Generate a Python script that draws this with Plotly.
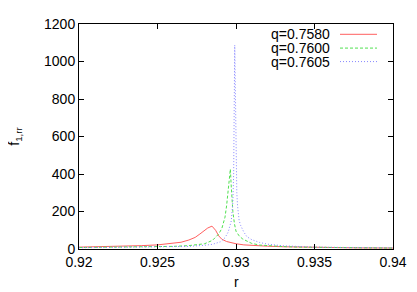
import plotly.graph_objects as go

# ---- data ----
names = ["q=0.7580", "q=0.7600", "q=0.7605"]

r_758 = [0.920, 0.921, 0.922, 0.923, 0.924, 0.925, 0.926, 0.9265, 0.927, 0.9274,
         0.9277, 0.928, 0.9282, 0.92847, 0.9287, 0.9289, 0.9291, 0.9294, 0.9297,
         0.930, 0.9305, 0.931, 0.932, 0.933, 0.934, 0.935, 0.936, 0.937, 0.938,
         0.939, 0.940]
f_758 = [10, 11, 13, 15, 18, 22, 30, 36, 48, 62,
         80, 100, 112, 122, 100, 70, 52, 40, 33,
         28, 22, 19, 15, 12, 10, 9, 8, 7, 6,
         6, 5]

r_760 = [0.920, 0.922, 0.924, 0.925, 0.926, 0.927, 0.9275, 0.928, 0.9285, 0.9289,
         0.9291, 0.9293, 0.9294, 0.9295, 0.92958, 0.92964, 0.9297, 0.9298, 0.9299,
         0.930, 0.9302, 0.9304, 0.9307, 0.931, 0.9315, 0.932, 0.933, 0.934, 0.935,
         0.937, 0.940]
f_760 = [8, 9, 11, 12, 14, 18, 22, 28, 46, 80,
         110, 170, 230, 300, 380, 426, 330, 200, 135,
         95, 70, 55, 42, 30, 21, 18, 13, 10, 9,
         7, 5]

r_7605 = [0.920, 0.922, 0.924, 0.925, 0.926, 0.927, 0.928, 0.9285, 0.929, 0.9293,
          0.9295, 0.9297, 0.9298, 0.92985, 0.92992, 0.92998, 0.9300, 0.93005, 0.9301,
          0.9302, 0.9303, 0.9305, 0.9307, 0.931, 0.9315, 0.932, 0.933, 0.934, 0.935,
          0.937, 0.940]
f_7605 = [7, 8, 9, 10, 12, 14, 20, 25, 38, 60,
          90, 150, 250, 400, 1087, 600, 400, 300, 230,
          152, 125, 90, 65, 50, 35, 26, 17, 13, 10,
          8, 6]

x_ticks = [0.92, 0.925, 0.93, 0.935, 0.94]
x_tick_labels = ["0.92", "0.925", "0.93", "0.935", "0.94"]
y_ticks = [0, 200, 400, 600, 800, 1000, 1200]

series = [(r_758, f_758), (r_760, f_760), (r_7605, f_7605)]
colors = ["rgb(255,95,95)", "rgb(80,225,80)", "rgb(135,135,255)"]
dashes = ["solid", "3px,2px", "1px,2px"]

# page is rendered with an 8px body margin, so compensate
OFF = 8
W, H = 417, 292
L, R, T, B = 79, 24, 16, 42.5
pw, ph = W - L - R, H - T - B

def px_x(p):
    return (p - L) / pw

def px_y(p):
    return (H - B - p) / ph

FONT = "Liberation Sans, Arial, sans-serif"

fig = go.Figure()
for (xs, ys), nm, c, d in zip(series, names, colors, dashes):
    fig.add_trace(go.Scatter(x=xs, y=ys, mode="lines", name=nm,
                             line=dict(color=c, width=1, dash=d),
                             showlegend=False))

axis_common = dict(showline=True, linecolor="black", linewidth=1, mirror="allticks",
                   ticks="inside", ticklen=5, tickcolor="black", showgrid=False,
                   zeroline=False, ticklabeloverflow="allow",
                   tickfont=dict(family=FONT, size=14, color="black"))

fig.update_xaxes(range=[0.92, 0.94], tickvals=x_ticks, ticktext=x_tick_labels, **axis_common)
fig.update_yaxes(range=[0, 1200], tickvals=y_ticks, **axis_common)

annotations = [
    dict(text="r", xref="paper", yref="paper", x=px_x(236), y=px_y(284),
         showarrow=False, font=dict(family=FONT, size=14, color="black"),
         xanchor="center", yanchor="middle"),
    dict(text="f<sub>1,rr</sub>", xref="paper", yref="paper", x=px_x(15), y=px_y(133),
         showarrow=False, textangle=-90, font=dict(family=FONT, size=14, color="black"),
         xanchor="center", yanchor="middle"),
]
shapes = []
legend_rows = [26.7, 41, 55]
for nm, c, d, yy in zip(names, colors, dashes, legend_rows):
    annotations.append(dict(text=nm, xref="paper", yref="paper", x=px_x(332), y=px_y(yy),
                            showarrow=False, xanchor="right", yanchor="middle",
                            font=dict(family=FONT, size=14, color="black")))
    shapes.append(dict(type="line", xref="paper", yref="paper",
                       x0=px_x(340), x1=px_x(377), y0=px_y(yy), y1=px_y(yy),
                       line=dict(color=c, width=1, dash=d)))

fig.update_layout(width=W - OFF, height=H - OFF,
                  margin=dict(l=L - OFF, r=R, t=T - OFF, b=B),
                  paper_bgcolor="white", plot_bgcolor="white",
                  annotations=annotations, shapes=shapes, showlegend=False)

fig.write_html("out.html")
